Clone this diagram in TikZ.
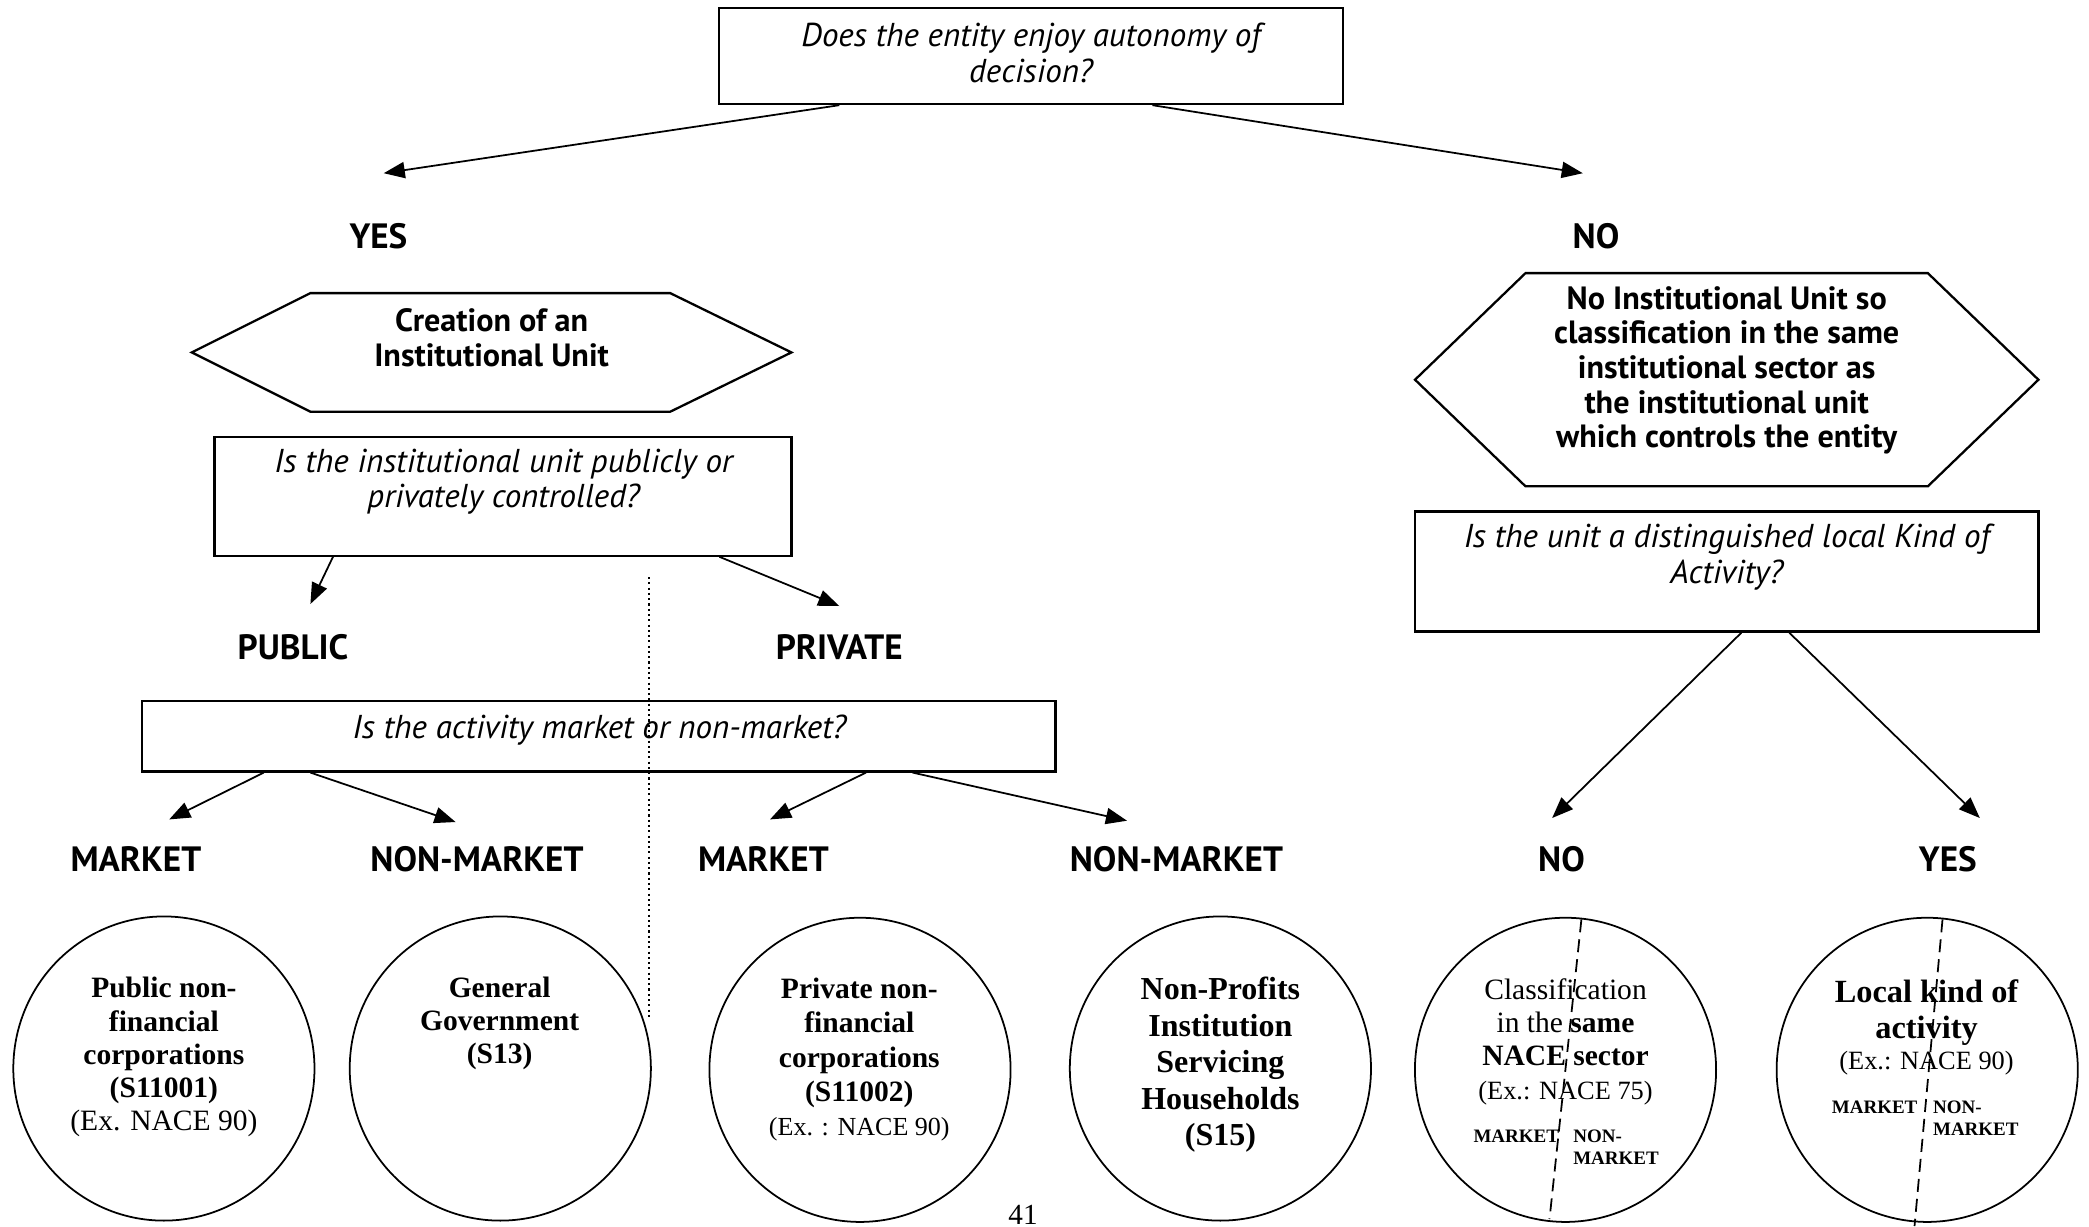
\documentclass[tikz,border=0pt]{standalone}
\usepackage{fontspec}
\setmainfont{Liberation Serif}
\newfontfamily\tsans{PT Sans}
\usetikzlibrary{arrows.meta,shapes.geometric}
\begin{document}
\begin{tikzpicture}[x=0.01cm,y=-0.01cm,
  qbox/.style={draw,line width=0.65pt,inner sep=0pt},
  qtext/.style={inner sep=0pt,align=center,font=\tsans\itshape\fontsize{9.4}{10.2}\selectfont},
  htext/.style={inner sep=0pt,align=center,font=\tsans\bfseries\fontsize{9.15}{10.2}\selectfont},
  lab/.style={inner sep=0pt,font=\tsans\bfseries\fontsize{10}{12}\selectfont},
  hexline/.style={draw,line width=0.65pt},
  arr/.style={line width=0.5pt,-{Triangle[length=6pt,width=4.6pt]}},
  oval/.style={draw,ellipse,line width=0.5pt,inner sep=0pt,minimum width=3.01cm,minimum height=3.04cm},
  ctext/.style={inner sep=0pt,align=center,font=\fontsize{8.4}{9.47}\selectfont},
  small/.style={inner sep=0pt,align=left,font=\bfseries\fontsize{5.4}{6.2}\selectfont},
  divider/.style={line width=0.5pt,dash pattern=on 3.7pt off 2pt}
]
\useasboundingbox (0,0) rectangle (2089,1226);

% ---------- top question ----------
\node[qbox,minimum width=6.236cm,minimum height=0.96cm] (top) at (1031.2,56) {};
\node[qtext] (toptxt) at (1031,52.6) {Does the entity enjoy autonomy of\\decision?};

\coordinate (yesTip) at (383.7,173.2);
\coordinate (noTip) at (1582.8,173.2);
\draw[arr] (top.south -| 839.3,0) -- (yesTip);
\draw[arr] (top.south -| 1152.4,0) -- (noTip);

\node[lab] (yes) at (378.4,235.8) {YES};
\node[lab] (no) at (1596,235.8) {NO};

% ---------- left hexagon ----------
\draw[hexline] (191.8,352.4) -- (310.4,293.1) -- (670.2,293.1) -- (791.4,352.4) -- (670.2,411.7) -- (310.4,411.7) -- cycle;
\node[htext] (creation) at (491.6,337.7) {Creation of an\\Institutional Unit};

% ---------- public / private ----------
\node[qbox,minimum width=5.769cm,minimum height=1.186cm] (pubpriv) at (503,496.3) {};
\node[qtext] (pubprivtxt) at (503.6,481.6) {Is the institutional unit publicly or\\privately controlled?};

\coordinate (pubTip) at (310.4,604);
\coordinate (privTip) at (839.3,606);
\draw[arr] (pubpriv.south -| 333,0) -- (pubTip);
\draw[arr] (pubpriv.south -| 719.4,0) -- (privTip);

\node[lab] (public) at (293,647.5) {PUBLIC};
\node[lab] (private) at (839.3,647.5) {PRIVATE};

% dotted separator
\coordinate (dotTop) at (648.8,577);
\coordinate (dotBot) at (648.8,1019);
\draw[line width=0.45pt,dash pattern=on 0.6pt off 0.9pt] (dotTop) -- (dotBot);

% ---------- market question ----------
\node[qbox,minimum width=9.126cm,minimum height=0.706cm] (mkt) at (598.9,736.1) {};
\node[qtext] (mkttxt) at (599.5,730) {Is the activity market or non-market?};

\coordinate (m1Tip) at (169.2,819.4);
\coordinate (m2Tip) at (455.6,822);
\coordinate (m3Tip) at (770,819.4);
\coordinate (m4Tip) at (1127,820.7);
\draw[arr] (mkt.south -| 263.8,0) -- (m1Tip);
\draw[arr] (mkt.south -| 310.4,0) -- (m2Tip);
\draw[arr] (mkt.south -| 866,0) -- (m3Tip);
\draw[arr] (mkt.south -| 912.6,0) -- (m4Tip);

\node[lab] (l1) at (135.9,859.3) {MARKET};
\node[lab] (l2) at (477,859.3) {NON-MARKET};
\node[lab] (l3) at (763.4,859.3) {MARKET};
\node[lab] (l4) at (1176.4,859.3) {NON-MARKET};

% ---------- right hexagon ----------
\draw[hexline] (1415,379.7) -- (1525.5,273.1) -- (1927.8,273.1) -- (2038.4,379.7) -- (1927.8,486.3) -- (1525.5,486.3) -- cycle;
\node[htext,font=\tsans\bfseries\fontsize{9.15}{9.85}\selectfont] (noiu) at (1726.7,370.4)
  {No Institutional Unit so\\classification in the same\\institutional sector as\\the institutional unit\\which controls the entity};

% ---------- KAU question ----------
\node[qbox,minimum width=6.234cm,minimum height=1.199cm] (kau) at (1726.7,571.6) {};
\node[qtext] (kautxt) at (1726.7,557.5) {Is the unit a distinguished local Kind of\\Activity?};

\coordinate (kNoTip) at (1552.1,818);
\coordinate (kYesTip) at (1979.8,818);
\draw[arr] (kau.south -| 1741.3,0) -- (kNoTip);
\draw[arr] (kau.south -| 1789.3,0) -- (kYesTip);

\node[lab] (l5) at (1561.5,859.3) {NO};
\node[lab] (l6) at (1947.8,859.3) {YES};

% ---------- ovals ----------
\node[oval] (c1) at (163.9,1068.5) {};
\node[oval] (c2) at (500.3,1068.5) {};
\node[oval] (c3) at (860,1069.8) {};
\node[oval] (c4) at (1220.4,1068.5) {};
\node[oval] (c5) at (1565.5,1069.8) {};
\node[oval] (c6) at (1927.2,1069.8) {};

\node[ctext] (t1) at (163.9,1057.2) {\textbf{Public non-}\\\textbf{financial}\\\textbf{corporations}\\\textbf{(S11001)}\\(Ex. NACE 90)};
\node[ctext] (t2) at (499.6,1023.3) {\textbf{General}\\\textbf{Government}\\\textbf{(S13)}};
\node[ctext,font=\fontsize{8.4}{9.7}\selectfont] (t3) at (859.3,1059.5) {\textbf{Private non-}\\\textbf{financial}\\\textbf{corporations}\\\textbf{(S11002)}\\{\fontsize{7.4}{9.7}\selectfont(Ex. : NACE 90)}};
\node[ctext,font=\bfseries\fontsize{9.1}{10.4}\selectfont] (t4) at (1220.4,1064.7) {Non-Profits\\Institution\\Servicing\\Households\\(S15)};
\node[ctext,font=\fontsize{8.4}{9.47}\selectfont] (t5) at (1565.5,1041.5) {Classification\\in the \textbf{same}\\\textbf{NACE sector}\\{\fontsize{7.5}{9.2}\selectfont(Ex.: NACE 75)}};
\node[small] (t5a) at (1516.2,1136.5) {MARKET};
\node[small] (t5b) at (1616,1147) {NON-\\MARKET};
\node[ctext,font=\bfseries\fontsize{9.2}{10.5}\selectfont] (t6) at (1926.5,1012.6) {Local kind of\\activity};
\node[ctext,font=\fontsize{7.5}{9}\selectfont] (t6e) at (1926.5,1062.8) {(Ex.: NACE 90)};
\node[small] (t6a) at (1874.6,1107.1) {MARKET};
\node[small] (t6b) at (1975.8,1118.5) {NON-\\MARKET};

\coordinate (d5a) at (1581.4,919.3);
\coordinate (d5b) at (1549.5,1219);
\coordinate (d6a) at (1942.5,919.3);
\coordinate (d6b) at (1914.5,1226);
\draw[divider] (d5a) -- (d5b);
\draw[divider] (d6a) -- (d6b);

% page number
\node[inner sep=0pt,anchor=south,font=\fontsize{8.3}{10}\selectfont] (pg) at (1023,1225) {41};
\end{tikzpicture}
\end{document}
